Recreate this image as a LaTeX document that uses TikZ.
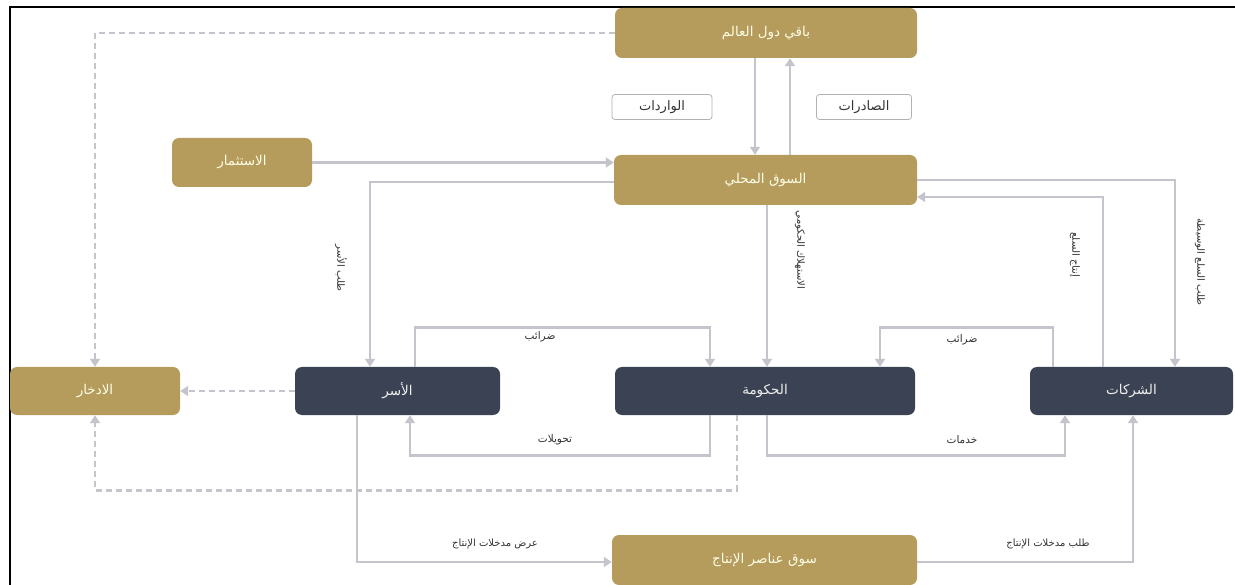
\documentclass[tikz,border=0pt]{standalone}
\usepackage{fontspec}
\TeXXeTstate=1
\newfontfamily\arabicfont[Script=Arabic]{DejaVu Sans}
\usetikzlibrary{arrows.meta}
\definecolor{gold}{HTML}{B59B5C}
\definecolor{navy}{HTML}{3B4254}
\definecolor{linegray}{HTML}{C4C5CC}
\definecolor{labgray}{HTML}{333333}
\tikzset{
  box/.style={rounded corners=7pt, inner sep=0pt, font=\arabicfont\fontsize{13.5}{15}\selectfont},
  goldbox/.style={box, fill=gold, text=white!90!yellow},
  navybox/.style={box, fill=navy, text=white!88!gray},
  tagbox/.style={box, rounded corners=3pt, draw=gray!60, fill=white, text=labgray, line width=0.8pt, font=\arabicfont\fontsize{13}{15}\selectfont},
  arr/.style={draw=linegray, line width=2.6pt, -{Triangle[width=10pt,length=8pt]}},
  darr/.style={arr, dash pattern=on 6pt off 4pt},
  lab/.style={text=labgray, font=\arabicfont\fontsize{10.5}{12}\selectfont, inner sep=1pt},
}
\begin{document}
\begin{tikzpicture}[x=1pt,y=-1pt]
\useasboundingbox (0,0) rectangle (1235,585);
\fill[white] (0,0) rectangle (1235,585);
\draw[black, line width=1.5pt] (10,585) -- (10,7) -- (1235,7);

\node[goldbox, minimum width=302pt, minimum height=50pt] (world) at (766,33) {\beginR باقي دول العالم\endR};
\node[tagbox, minimum width=100pt, minimum height=25pt] (imp) at (662,107) {\beginR الواردات\endR};
\node[tagbox, minimum width=95pt, minimum height=25pt] (exp) at (864,107) {\beginR الصادرات\endR};
\node[goldbox, minimum width=303pt, minimum height=50pt] (market) at (765.5,180) {\beginR السوق المحلي\endR};
\node[goldbox, minimum width=140pt, minimum height=49pt] (invest) at (242,162.5) {\beginR الاستثمار\endR};
\node[goldbox, minimum width=170pt, minimum height=48pt] (sav) at (95,391) {\beginR الادخار\endR};
\node[navybox, minimum width=205pt, minimum height=48pt] (hh) at (397.5,391) {\beginR الأسر\endR};
\node[navybox, minimum width=300pt, minimum height=48pt] (gov) at (765,391) {\beginR الحكومة\endR};
\node[navybox, minimum width=203pt, minimum height=48pt] (firms) at (1131.5,391) {\beginR الشركات\endR};
\node[goldbox, minimum width=305pt, minimum height=50pt] (factor) at (764.5,560) {\beginR سوق عناصر الإنتاج\endR};

% rest of world -> savings (dashed)
\draw[darr] (world.west) -| (sav.north);
% imports / exports
\draw[arr] ([xshift=-11pt]world.south) -- ([xshift=-10.5pt]market.north);
\draw[arr] ([xshift=24.5pt]market.north) -- ([xshift=24pt]world.south);
% investment
\draw[arr] (invest.east) -- (invest.east -| market.west);
% market -> households
\draw[arr] ([yshift=-2pt]market.west) -| ([xshift=-27.5pt]hh.north);
\node[lab, rotate=-90, font=\arabicfont\fontsize{10}{12}\selectfont] (l1) at (341,268) {\beginR طلب الأسر\endR};
% market -> government
\draw[arr] ([xshift=1.5pt]market.south) -- ([xshift=2pt]gov.north);
\node[lab, rotate=-90, font=\arabicfont\fontsize{10}{12}\selectfont] (l2) at (800,250) {\beginR الاستهلاك الحكومي\endR};
% firms -> market
\draw[arr] ([xshift=-28.5pt]firms.north) |- ([yshift=-17pt]market.east);
\node[lab, rotate=-90, font=\arabicfont\fontsize{10}{12}\selectfont] (l3) at (1075,255) {\beginR إنتاج السلع\endR};
% market -> firms
\draw[arr] (market.east) -| ([xshift=43.5pt]firms.north);
\node[lab, rotate=-90, font=\arabicfont\fontsize{10}{12}\selectfont] (l4) at (1200,262) {\beginR طلب السلع الوسيطة\endR};
% taxes households
\draw[arr] ([xshift=17.5pt]hh.north) -- ++(0,-39) -| ([xshift=-55pt]gov.north);
\node[lab] (l5) at (540,337) {\beginR ضرائب\endR};
% taxes firms
\draw[arr] ([xshift=-78.5pt]firms.north) -- ++(0,-39) -| ([xshift=115pt]gov.north);
\node[lab] (l6) at (962,340) {\beginR ضرائب\endR};
% transfers
\draw[arr] ([xshift=-55pt]gov.south) -- ++(0,40) -| ([xshift=12.5pt]hh.south);
\node[lab] (l7) at (555,440) {\beginR تحويلات\endR};
% services
\draw[arr] ([xshift=2pt]gov.south) -- ++(0,40) -| ([xshift=-66.5pt]firms.south);
\node[lab] (l8) at (962,440) {\beginR خدمات\endR};
% government -> savings (dashed)
\draw[darr] ([xshift=-28pt]gov.south) -- ++(0,75) -| (sav.south);
% households -> savings (dashed)
\draw[darr] (hh.west) -- (sav.east);
% households -> factor market
\draw[arr] ([xshift=-40.5pt]hh.south) |- ([yshift=-2pt]factor.west);
\node[lab, font=\arabicfont\fontsize{10}{12}\selectfont] (l9) at (495,544) {\beginR عرض مدخلات الإنتاج\endR};
% factor market -> firms
\draw[arr] ([yshift=-2pt]factor.east) -| ([xshift=1.5pt]firms.south);
\node[lab, font=\arabicfont\fontsize{10}{12}\selectfont] (l10) at (1048,544) {\beginR طلب مدخلات الإنتاج\endR};
\end{tikzpicture}
\end{document}
